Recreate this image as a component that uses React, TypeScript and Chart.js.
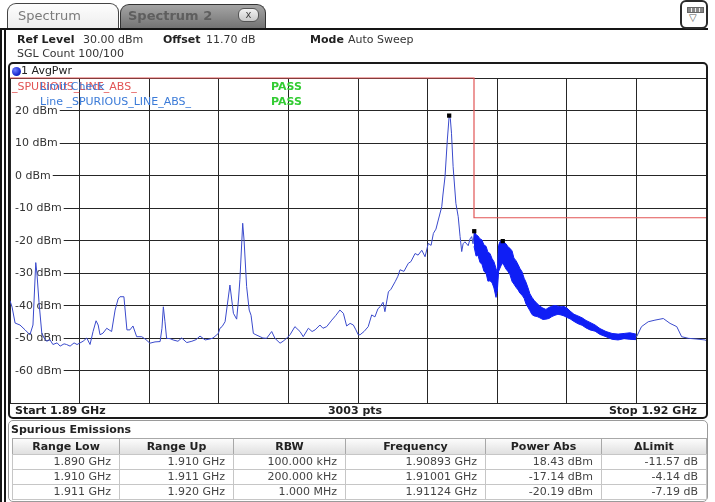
import React, { useEffect, useRef } from 'react';
import { Chart, registerables } from 'chart.js';
Chart.register(...registerables);

// ---------- data ----------
const freqStartMHz = 1890;
const freqStopMHz = 1920;
const freqStepMHz = 3;
const refLevelDbm = 30;
const bottomDbm = -70;
const dbStep = 10;
const yTickValues = [20, 10, 0, -10, -20, -30, -40, -50, -60];
const yTickLabels = ['20 dBm', '10 dBm', '0 dBm', '-10 dBm', '-20 dBm', '-30 dBm', '-40 dBm', '-50 dBm', '-60 dBm'];

const traceFreqMHz = [
  1890.00, 1890.09, 1890.22, 1890.43, 1890.65, 1890.86, 1890.99, 1891.11, 1891.16, 1891.25,
  1891.37, 1891.47, 1891.58, 1891.72, 1891.85, 1892.03, 1892.16, 1892.33, 1892.44, 1892.59,
  1892.76, 1892.89, 1893.02, 1893.15, 1893.31, 1893.45, 1893.58, 1893.71, 1893.80, 1893.88,
  1894.01, 1894.17, 1894.27, 1894.38, 1894.53, 1894.66, 1894.74, 1894.91, 1895.04, 1895.17,
  1895.30, 1895.46, 1895.68, 1895.86, 1896.03, 1896.25, 1896.47, 1896.55, 1896.61, 1896.68,
  1896.75, 1896.90, 1897.03, 1897.24, 1897.40, 1897.62, 1897.84, 1898.02, 1898.19, 1898.41,
  1898.62, 1898.75, 1898.98, 1899.05, 1899.14, 1899.27, 1899.40, 1899.48, 1899.63, 1899.77,
  1899.85, 1899.91, 1899.98, 1900.03, 1900.09, 1900.20, 1900.31, 1900.39, 1900.49, 1900.60,
  1900.78, 1900.90, 1901.06, 1901.28, 1901.42, 1901.64, 1901.77, 1901.92, 1902.07, 1902.28,
  1902.50, 1902.64, 1902.86, 1903.02, 1903.15, 1903.36, 1903.49, 1903.65, 1903.87, 1904.05,
  1904.22, 1904.37, 1904.51, 1904.66, 1904.80, 1904.91, 1905.01, 1905.09, 1905.26, 1905.44,
  1905.59, 1905.73, 1905.86, 1905.95, 1906.08, 1906.16, 1906.31, 1906.42, 1906.60, 1906.72,
  1906.81, 1906.98, 1907.17, 1907.28, 1907.46, 1907.59, 1907.75, 1907.89, 1908.03, 1908.15,
  1908.25, 1908.36, 1908.46, 1908.61, 1908.66, 1908.75, 1908.85, 1908.93, 1908.98, 1909.03,
  1909.10, 1909.22, 1909.32, 1909.40, 1909.47, 1909.53, 1909.61, 1909.75, 1909.83, 1909.90,
  1909.96, 1910.01, 1910.17, 1910.39, 1910.60, 1910.82, 1910.95, 1911.01, 1911.05, 1911.12,
  1911.24, 1911.41, 1911.62, 1911.84, 1912.06, 1912.28, 1912.50, 1912.68, 1912.84, 1913.13,
  1913.42, 1913.71, 1914.00, 1914.29, 1914.72, 1915.00, 1915.22, 1915.50, 1915.79, 1916.08,
  1916.37, 1916.65, 1917.01, 1917.22, 1917.51, 1917.80, 1918.16, 1918.45, 1918.74, 1918.95,
  1919.24, 1919.57, 1919.96, 1920.00,
];
const traceDbm = [
  -38.5, -40.5, -45.4, -46.0, -47.5, -49.0, -46.0, -26.8, -30.0, -39.0,
  -48.5, -50.0, -51.0, -50.5, -52.0, -51.5, -52.5, -51.8, -52.0, -52.5,
  -51.5, -52.0, -51.5, -51.0, -50.0, -52.0, -48.0, -44.7, -46.0, -49.0,
  -48.5, -47.0, -47.5, -48.0, -41.4, -38.0, -37.3, -37.3, -47.5, -47.5,
  -46.3, -49.6, -49.6, -50.5, -51.6, -51.2, -51.1, -47.0, -40.4, -45.0,
  -50.1, -50.2, -50.6, -51.0, -50.0, -51.4, -51.0, -50.5, -49.4, -50.6,
  -50.3, -50.0, -48.6, -47.0, -46.5, -45.0, -38.0, -33.7, -42.4, -44.2,
  -38.0, -32.0, -22.0, -14.7, -20.0, -34.2, -41.4, -43.0, -48.6, -49.0,
  -49.6, -50.0, -50.1, -48.0, -50.1, -51.6, -51.0, -50.1, -49.0, -46.5,
  -48.0, -49.6, -47.0, -48.0, -47.5, -46.0, -47.0, -46.5, -44.5, -43.0,
  -41.4, -42.4, -46.3, -45.5, -46.0, -47.5, -49.0, -49.0, -48.0, -46.5,
  -42.9, -43.5, -41.0, -40.4, -39.0, -41.9, -35.8, -35.0, -32.7, -31.0,
  -29.0, -29.5, -27.0, -26.5, -24.0, -24.5, -23.0, -25.0, -20.9, -21.5,
  -17.8, -16.5, -13.7, -9.6, -6.0, -0.4, 10.9, 18.4, 17.5, 13.0,
  2.7, -8.6, -12.7, -18.8, -23.4, -21.0, -20.4, -21.6, -19.5, -18.8,
  -21.0, -17.2, -21.0, -23.5, -25.5, -28.0, -31.0, -34.0, -24.0, -22.0,
  -20.2, -24.0, -26.0, -29.5, -32.0, -35.5, -39.0, -41.0, -42.0, -42.5,
  -41.8, -41.6, -42.0, -43.7, -45.0, -46.3, -46.5, -48.0, -49.0, -49.6,
  -49.6, -49.0, -49.6, -46.5, -45.0, -44.5, -44.0, -45.5, -46.5, -49.6,
  -50.1, -50.3, -50.6, -50.8,
];

// dense (noisy) part of the trace: upper / lower envelope
const bandFreqMHz = [
  1910.00, 1910.09, 1910.17, 1910.26, 1910.34, 1910.43, 1910.52, 1910.60, 1910.69, 1910.78,
  1910.86, 1910.95, 1911.01, 1911.06, 1911.12, 1911.21, 1911.29, 1911.38, 1911.47, 1911.55,
  1911.64, 1911.72, 1911.81, 1911.90, 1911.98, 1912.07, 1912.16, 1912.24, 1912.33, 1912.41,
  1912.50, 1912.59, 1912.72, 1912.84, 1912.97, 1913.10, 1913.23, 1913.36, 1913.49, 1913.62,
  1913.75, 1913.88, 1914.01, 1914.14, 1914.31, 1914.48, 1914.66, 1914.83, 1915.00, 1915.22,
  1915.43, 1915.69, 1915.95, 1916.21, 1916.47, 1916.72, 1916.98,
];
const bandHighDbm = [
  -17.0, -18.2, -18.6, -19.5, -19.8, -21.4, -21.8, -23.6, -24.0, -25.6,
  -26.5, -28.6, -30.0, -21.5, -20.4, -19.6, -20.6, -21.0, -22.0, -22.4,
  -23.2, -25.4, -26.2, -27.4, -28.6, -29.6, -31.6, -32.8, -34.6, -36.4,
  -37.5, -38.4, -39.4, -40.2, -40.8, -41.2, -40.6, -40.2, -40.0, -40.2,
  -40.4, -40.3, -40.8, -41.7, -42.7, -43.2, -43.8, -44.6, -45.2, -46.0,
  -47.1, -48.0, -48.6, -48.8, -48.6, -48.4, -48.8,
];
const bandLowDbm = [
  -21.8, -24.8, -24.5, -26.8, -27.2, -29.5, -30.0, -32.5, -32.4, -33.0,
  -34.6, -37.5, -35.0, -29.5, -28.5, -27.0, -27.6, -28.8, -29.6, -30.5,
  -32.6, -33.4, -34.4, -35.2, -36.2, -36.8, -37.8, -39.5, -40.6, -41.6,
  -42.8, -43.2, -43.4, -43.8, -44.3, -44.2, -44.0, -43.4, -43.0, -42.7,
  -42.9, -43.2, -43.7, -44.1, -44.9, -45.6, -46.1, -46.9, -47.5, -47.9,
  -48.9, -49.6, -50.4, -50.6, -50.2, -50.4, -50.5,
];

const limitFreqMHz = [1890, 1910, 1910, 1920];
const limitDbm = [30, 30, -13, -13];

const markerFreqMHz = [1908.93, 1910.01, 1911.24];
const markerDbm = [18.43, -17.14, -20.19];

const tableHeaders = ['Range Low', 'Range Up', 'RBW', 'Frequency', 'Power Abs', '\u0394Limit'];
const rangeLow = ['1.890 GHz', '1.910 GHz', '1.911 GHz'];
const rangeUp = ['1.910 GHz', '1.911 GHz', '1.920 GHz'];
const rbw = ['100.000 kHz', '200.000 kHz', '1.000 MHz'];
const frequency = ['1.90893 GHz', '1.91001 GHz', '1.91124 GHz'];
const powerAbs = ['18.43 dBm', '-17.14 dBm', '-20.19 dBm'];
const deltaLimit = ['-11.57 dB', '-4.14 dB', '-7.19 dB'];

// ---------- styling / layout ----------
const FONT = '"DejaVu Sans", Verdana, sans-serif';
const colEdges = [12, 119, 233, 345, 485, 601, 706];
const BAND_BLUE = '#0f1ef5';

const toPoints = (xs: number[], ys: number[]) => xs.map((x, i) => ({ x, y: ys[i] }));

const yLabelPlugin = {
  id: 'yLabels',
  beforeDatasetsDraw(chart: any) {
    const { ctx, chartArea } = chart;
    const y = chart.scales.y;
    ctx.save();
    ctx.font = `11px ${FONT}`;
    ctx.textBaseline = 'middle';
    ctx.textAlign = 'left';
    yTickValues.forEach((v, i) => {
      const py = y.getPixelForValue(v);
      const text = yTickLabels[i];
      const w = ctx.measureText(text).width;
      ctx.fillStyle = '#ffffff';
      ctx.fillRect(chartArea.left + 1, py - 2, w + 6, 4);
      ctx.fillStyle = '#333333';
      ctx.fillText(text, chartArea.left + 5, py + 0.5);
    });
    ctx.restore();
  },
};

const abs = (left: number, top: number, extra: React.CSSProperties = {}): React.CSSProperties => ({
  position: 'absolute',
  left,
  top,
  whiteSpace: 'nowrap',
  ...extra,
});

export default function App() {
  const canvasRef = useRef<HTMLCanvasElement>(null);

  useEffect(() => {
    document.body.style.margin = '0';
    const canvas = canvasRef.current;
    if (!canvas) return;
    const chart = new Chart(canvas, {
      type: 'scatter',
      data: {
        datasets: [
          {
            label: 'markers',
            data: toPoints(markerFreqMHz, markerDbm),
            showLine: false,
            pointStyle: 'rect',
            pointRadius: 3,
            pointBackgroundColor: '#000000',
            pointBorderColor: '#000000',
            pointBorderWidth: 0,
          },
          {
            label: 'limit',
            data: toPoints(limitFreqMHz, limitDbm),
            showLine: true,
            borderColor: '#e25555',
            borderWidth: 1.2,
            pointRadius: 0,
            fill: false,
            clip: 3,
          },
          {
            label: 'bandHigh',
            data: toPoints(bandFreqMHz, bandHighDbm),
            showLine: true,
            borderColor: BAND_BLUE,
            borderWidth: 1,
            pointRadius: 0,
            fill: false,
          },
          {
            label: 'bandLow',
            data: toPoints(bandFreqMHz, bandLowDbm),
            showLine: true,
            borderColor: BAND_BLUE,
            backgroundColor: BAND_BLUE,
            borderWidth: 1,
            pointRadius: 0,
            fill: '-1',
          },
          {
            label: 'trace',
            data: toPoints(traceFreqMHz, traceDbm),
            showLine: true,
            borderColor: '#3a4acc',
            borderWidth: 1,
            pointRadius: 0,
            fill: false,
          },
        ],
      } as any,
      options: {
        animation: false,
        responsive: false,
        maintainAspectRatio: false,
        events: [],
        layout: { autoPadding: false, padding: { left: 10, top: 78, right: 9, bottom: 99 } },
        plugins: { legend: { display: false }, tooltip: { enabled: false } },
        scales: {
          x: {
            type: 'linear',
            min: freqStartMHz,
            max: freqStopMHz,
            ticks: { display: false, stepSize: freqStepMHz },
            grid: { color: '#262626', lineWidth: 1, drawTicks: false },
            border: { display: true, color: '#262626' },
            afterFit: (s: any) => { s.height = 0; },
          },
          y: {
            type: 'linear',
            min: bottomDbm,
            max: refLevelDbm,
            ticks: { display: false, stepSize: dbStep },
            grid: { color: '#262626', lineWidth: 1, drawTicks: false },
            border: { display: true, color: '#262626' },
            afterFit: (s: any) => { s.width = 0; },
          },
        },
      } as any,
      plugins: [yLabelPlugin],
    });
    return () => chart.destroy();
  }, []);

  const rows = [0, 1, 2].map((i) => [rangeLow[i], rangeUp[i], rbw[i], frequency[i], powerAbs[i], deltaLimit[i]]);
  const rowTops = [454, 469, 484];

  return (
    <div
      style={{
        position: 'relative',
        width: 715,
        height: 502,
        overflow: 'hidden',
        background: '#ffffff',
        fontFamily: FONT,
        fontSize: 11,
        color: '#222',
      }}
    >
      <canvas
        ref={canvasRef}
        width={715}
        height={502}
        style={{ position: 'absolute', left: 0, top: 0, width: 715, height: 502 }}
      />

      {/* tabs */}
      <div
        style={abs(120, 4, {
          width: 146,
          height: 25,
          boxSizing: 'border-box',
          border: '1px solid #333',
          borderBottom: 'none',
          borderRadius: '9px 9px 0 0',
          background: 'linear-gradient(#a4a4a4, #727272)',
        })}
      />
      <div style={abs(128, 8, { fontSize: 13, fontWeight: 'bold', color: '#5e5e5e', lineHeight: '16px' })}>Spectrum 2</div>
      <div
        style={abs(238, 8, {
          width: 21,
          height: 14,
          boxSizing: 'border-box',
          border: '1px solid #555',
          borderRadius: 6,
          background: 'linear-gradient(#f2f2f2, #c8c8c8)',
          fontSize: 10,
          lineHeight: '11px',
          textAlign: 'center',
          color: '#444',
        })}
      >
        x
      </div>
      <div
        style={abs(7, 3, {
          width: 112,
          height: 27,
          boxSizing: 'border-box',
          border: '1px solid #444',
          borderBottom: 'none',
          borderRadius: '9px 9px 0 0',
          background: 'linear-gradient(#fdfdfd, #ececec)',
        })}
      />
      <div style={abs(18, 8, { fontSize: 13, color: '#7a7a7a', lineHeight: '16px' })}>Spectrum</div>
      {/* line below tabs */}
      <div style={abs(0, 28, { width: 708, height: 2, background: '#151515' })} />
      {/* top-right icon */}
      <div
        style={abs(680, 0, {
          width: 28,
          height: 29,
          boxSizing: 'border-box',
          border: '2px solid #2a2a2a',
          borderRadius: 6,
          background: '#fff',
        })}
      >
        <div style={abs(5, 5, { width: 15, height: 4, border: '1px solid #666', background: 'repeating-linear-gradient(90deg,#888 0 3px,#eee 3px 4px)' })} />
        <div style={abs(7, 11, { fontSize: 10, lineHeight: '10px', color: '#555' })}>{'\u25BD'}</div>
      </div>
      {/* left double line */}
      <div style={abs(0, 29, { width: 2, height: 473, background: '#151515' })} />
      <div style={abs(4, 29, { width: 2, height: 473, background: '#151515' })} />

      {/* header */}
      <div style={abs(17, 33, { lineHeight: '14px', fontWeight: 'bold' })}>Ref Level</div>
      <div style={abs(83, 33, { lineHeight: '14px', color: '#333' })}>30.00 dBm</div>
      <div style={abs(163, 33, { lineHeight: '14px', fontWeight: 'bold' })}>Offset</div>
      <div style={abs(206, 33, { lineHeight: '14px', color: '#333' })}>11.70 dB</div>
      <div style={abs(310, 33, { lineHeight: '14px', fontWeight: 'bold' })}>Mode</div>
      <div style={abs(348, 33, { lineHeight: '14px', color: '#333' })}>Auto Sweep</div>
      <div style={abs(17, 47, { lineHeight: '14px', color: '#333' })}>SGL Count 100/100</div>

      {/* plot frame */}
      <div
        style={abs(8, 62, {
          width: 700,
          height: 357,
          boxSizing: 'border-box',
          border: '2px solid #1a1a1a',
          borderRadius: 5,
        })}
      />
      <div
        style={abs(12, 67, {
          width: 9,
          height: 9,
          borderRadius: '50%',
          background: 'radial-gradient(circle at 35% 35%, #7080ff, #1a2ad0 60%, #101c90)',
        })}
      />
      <div style={abs(21, 64, { lineHeight: '14px', color: '#222' })}>1 AvgPwr</div>

      {/* in-plot texts */}
      <div style={abs(12, 80, { lineHeight: '14px', color: '#e25555' })}>_SPURIOUS_LINE_ABS_</div>
      <div style={abs(40, 80, { lineHeight: '14px', color: '#3b7bd8' })}>Limit Check</div>
      <div style={abs(40, 95, { lineHeight: '14px', color: '#3b7bd8' })}>Line _SPURIOUS_LINE_ABS_</div>
      <div style={abs(271, 80, { lineHeight: '14px', color: '#33cc33', fontWeight: 'bold' })}>PASS</div>
      <div style={abs(271, 95, { lineHeight: '14px', color: '#33cc33', fontWeight: 'bold' })}>PASS</div>

      {/* bottom bar */}
      <div style={abs(15, 404, { lineHeight: '14px', fontWeight: 'bold' })}>Start 1.89 GHz</div>
      <div style={abs(305, 404, { width: 100, textAlign: 'center', lineHeight: '14px', fontWeight: 'bold' })}>3003 pts</div>
      <div style={abs(597, 404, { width: 100, textAlign: 'right', lineHeight: '14px', fontWeight: 'bold' })}>Stop 1.92 GHz</div>

      {/* spurious emissions section */}
      <div
        style={abs(8, 420, {
          width: 700,
          height: 82,
          boxSizing: 'border-box',
          border: '1px solid #9a9a9a',
          borderRadius: 5,
        })}
      />
      <div style={abs(11, 423, { lineHeight: '14px', fontWeight: 'bold' })}>Spurious Emissions</div>

      {tableHeaders.map((h, c) => (
        <div
          key={'h' + c}
          style={abs(colEdges[c], 438, {
            width: colEdges[c + 1] - colEdges[c] + 1,
            height: 17,
            boxSizing: 'border-box',
            border: '1px solid #a8a8a8',
            background: 'linear-gradient(#fcfcfc, #e0e0e0)',
            textAlign: 'center',
            lineHeight: '15px',
            fontWeight: 'bold',
            color: '#222',
          })}
        >
          {h}
        </div>
      ))}
      {rows.map((r, ri) =>
        r.map((v, c) => (
          <div
            key={'c' + ri + '-' + c}
            style={abs(colEdges[c], rowTops[ri], {
              width: colEdges[c + 1] - colEdges[c] + 1,
              height: 16,
              boxSizing: 'border-box',
              border: '1px solid #c6c6c6',
              textAlign: 'right',
              paddingRight: 8,
              lineHeight: '14px',
              color: '#444',
              background: '#fff',
            })}
          >
            {v}
          </div>
        ))
      )}
    </div>
  );
}
